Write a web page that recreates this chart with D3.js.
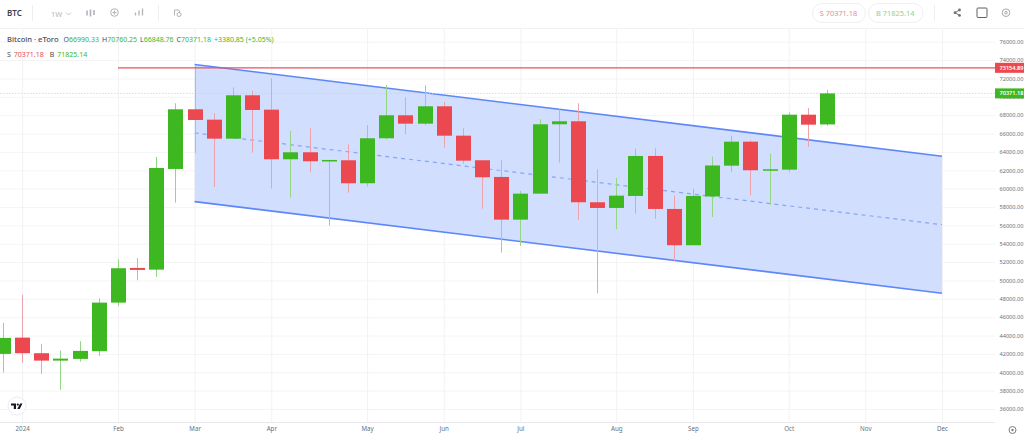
<!DOCTYPE html>
<html lang="en">

<head>
  <meta charset="UTF-8" />
  <title>BTC weekly</title>
  <script src="https://d3js.org/d3.v7.min.js"></script>
  <style>
    html, body { margin: 0; padding: 0; background: #fff; overflow: hidden; }
    svg { display: block; font-family: "Noto Sans", sans-serif; }
  </style>
</head>

<body>
  <script>
    //weekly candles
    const opens = [42000, 43774, 42076, 41270, 41456, 42294, 47585, 51363, 51178, 62141, 68640, 67508, 65440, 70165, 68597, 63197, 63959, 62979, 63088, 60584, 65483, 67987, 67073, 68967, 65766, 63088, 61270, 56621, 59452, 67007, 67334, 58516, 57895, 59202, 63556, 57786, 53834, 59147, 62500, 65113, 61956, 62065, 68052, 66990.33]
    const highs = [45375, 48423, 43089, 42359, 43383, 48064, 52310, 52451, 63447, 69294, 73463, 68205, 71036, 70665, 72015, 66278, 66572, 63121, 64830, 66931, 71253, 69947, 71253, 69435, 66572, 63121, 63153, 59746, 67552, 68640, 69294, 62108, 61161, 64351, 64394, 59234, 59996, 63480, 65766, 65265, 63807, 68314, 68782, 70760.25]
    const lows = [39964, 41020, 39822, 38080, 41162, 41782, 47226, 50024, 50383, 58472, 63850, 60181, 65440, 63915, 59996, 59016, 61782, 55968, 59561, 60214, 65374, 65919, 66898, 64460, 62718, 57819, 53028, 53758, 59452, 62827, 56621, 48608, 55609, 57274, 56698, 52157, 53834, 56915, 61782, 59277, 58254, 61782, 64536, 66848.76]
    const closes = [43742, 42076, 41270, 41488, 42327, 47585, 51330, 51145, 62250, 68640, 67475, 65440, 70165, 68564, 63197, 63959, 62979, 63121, 60584, 65483, 67987, 67073, 68967, 65766, 63044, 61237, 56621, 59452, 67007, 67334, 58516, 57895, 59234, 63556, 57786, 53834, 59202, 62522, 65113, 61999, 62108, 68052, 66964, 70371.18]

    const monthNames = ['2024', 'Feb', 'Mar', 'Apr', 'May', 'Jun', 'Jul', 'Aug', 'Sep', 'Oct', 'Nov', 'Dec']
    const monthWeeks = [1, 6, 10, 14, 19, 23, 27, 32, 36, 41, 45, 49]
    const priceTicks = d3.range(36000, 76001, 2000)

    //drawn channel: week index, upper, middle, lower
    const channelWeeks = [10, 49]
    const channelUpper = [73518, 63524]
    const channelMiddle = [66060, 56077]
    const channelLower = [58581, 48608]

    const lastPrice = 70371.18
    const alertPrice = 73154.89
    const alertStart = 6

    const width = 1024, height = 437
    const green = '#3db821', red = '#ec4850'

    const x = d3.scaleLinear().domain([0, 49]).range([3, 942])
    const y = d3.scaleLinear().domain([36000, 76000]).range([409, 41.7])

    const svg = d3.select('body').append('svg')
      .attr('width', width)
      .attr('height', height)

    //grid, using the axes with long ticks
    const yAxis = d3.axisRight(y)
      .tickValues(priceTicks)
      .tickFormat(d3.format('.2f'))
      .tickSize(995)
    const yGroup = svg.append('g').attr('id', 'yaxis').call(yAxis)
    yGroup.select('.domain').remove()
    yGroup.selectAll('line').attr('stroke', '#f4f4f6')
    yGroup.selectAll('text')
      .attr('x', 999.5)
      .attr('fill', '#6b6f78')
      .style('font-size', '5.6px')
      .style('font-family', '"Noto Sans", sans-serif')

    const xAxis = d3.axisBottom(x)
      .tickValues(monthWeeks)
      .tickFormat((d, i) => monthNames[i])
      .tickSize(394)
    const xGroup = svg.append('g').attr('id', 'xaxis').attr('transform', 'translate(0,28)').call(xAxis)
    xGroup.select('.domain').remove()
    xGroup.selectAll('line').attr('stroke', '#f2f2f5')
    xGroup.selectAll('text')
      .attr('y', 399)
      .attr('fill', '#6b6f78')
      .style('font-size', '6.2px')
      .style('font-family', '"Noto Sans", sans-serif')

    //frame lines
    svg.append('line').attr('x1', 0).attr('x2', width).attr('y1', 28.5).attr('y2', 28.5).attr('stroke', '#f2f2f4')
    svg.append('line').attr('x1', 0).attr('x2', 995).attr('y1', 422.5).attr('y2', 422.5).attr('stroke', '#e8e8ec')

    //channel
    const channel = channelWeeks.map((w, i) => ({ w, up: channelUpper[i], mid: channelMiddle[i], low: channelLower[i] }))
    svg.append('path')
      .datum(channel)
      .attr('fill', '#d1defd')
      .attr('d', d3.area().x(d => x(d.w)).y0(d => y(d.low)).y1(d => y(d.up)))
    svg.append('path')
      .datum(channel)
      .attr('fill', 'none').attr('stroke', '#86a5fa').attr('stroke-width', 1.2).attr('stroke-dasharray', '4 4')
      .attr('d', d3.line().x(d => x(d.w)).y(d => y(d.mid)))
    for (const key of ['up', 'low']) {
      svg.append('path')
        .datum(channel)
        .attr('fill', 'none').attr('stroke', '#5c86fb').attr('stroke-width', 1.6)
        .attr('d', d3.line().x(d => x(d.w)).y(d => y(d[key])))
    }

    //last price dotted line
    svg.append('line')
      .attr('x1', 0).attr('x2', 995)
      .attr('y1', y(lastPrice)).attr('y2', y(lastPrice))
      .attr('stroke', '#b9e3ae').attr('stroke-width', 0.8).attr('stroke-dasharray', '1.5 1.5')

    //candles
    const candles = opens.map((o, i) => ({ i, o, h: highs[i], l: lows[i], c: closes[i] }))
    const candle = svg.append('g').attr('id', 'candles').selectAll('g')
      .data(candles)
      .join('g')
    candle.append('line')
      .attr('x1', d => Math.round(x(d.i)) + 0.5)
      .attr('x2', d => Math.round(x(d.i)) + 0.5)
      .attr('y1', d => y(d.h))
      .attr('y2', d => y(d.l))
      .attr('stroke', d => d.c >= d.o ? '#93d685' : '#eca3ad')
      .attr('stroke-width', 1)
    candle.append('rect')
      .attr('x', d => Math.round(x(d.i)) + 0.5 - 7.5)
      .attr('width', 15)
      .attr('y', d => y(Math.max(d.o, d.c)))
      .attr('height', d => Math.max(1.5, y(Math.min(d.o, d.c)) - y(Math.max(d.o, d.c))))
      .attr('fill', d => d.c >= d.o ? green : red)

    //alert line and its price tag
    svg.append('line')
      .attr('x1', x(alertStart)).attr('x2', 995)
      .attr('y1', y(alertPrice)).attr('y2', y(alertPrice))
      .attr('stroke', '#e9525c').attr('stroke-width', 1.2)

    function priceTag(value, fill) {
      svg.append('rect').attr('x', 995).attr('width', 29).attr('y', y(value) - 5).attr('height', 10).attr('fill', fill)
      svg.append('text').attr('x', 999.5).attr('y', y(value) + 2)
        .attr('fill', '#fff').style('font-size', '5.6px').style('font-weight', 600)
        .text(value.toFixed(2))
    }
    priceTag(alertPrice, '#ec4850')
    priceTag(lastPrice, green)

    //legend text
    const legend = svg.append('text').attr('x', 7).attr('y', 41.5).style('font-size', '7px').attr('fill', green)
    legend.append('tspan').attr('fill', '#4a4e57').style('font-size', '7.6px').style('font-weight', 500).text('Bitcoin · eToro')
    const ohlc = [['O', '66990.33'], ['H', '70760.25'], ['L', '66848.76'], ['C', '70371.18']]
    ohlc.forEach((p, i) => {
      legend.append('tspan').attr('fill', '#4a4e57').attr('dx', i ? 3 : 5).text(p[0])
      legend.append('tspan').text(p[1])
    })
    legend.append('tspan').attr('dx', 3).text('+3380.85 (+5.05%)')

    const quote = svg.append('text').attr('x', 7).attr('y', 57).style('font-size', '7px')
    quote.append('tspan').attr('fill', '#4a4e57').text('S')
    quote.append('tspan').attr('fill', red).attr('dx', 3).text('70371.18')
    quote.append('tspan').attr('fill', '#4a4e57').attr('dx', 6).text('B')
    quote.append('tspan').attr('fill', green).attr('dx', 3).text('71825.14')

    //toolbar
    svg.append('text').attr('x', 7).attr('y', 16).attr('fill', '#3c4049').style('font-size', '8px').style('font-weight', 600).text('BTC')
    svg.append('text').attr('x', 51).attr('y', 17).attr('fill', '#b4b7bd').style('font-size', '7.5px').text('1W')
    svg.append('path').attr('d', 'M66 12.5l2.5 2.5 2.5-2.5').attr('fill', 'none').attr('stroke', '#b4b7bd').attr('stroke-width', 0.8)
    for (const sx of [32.5, 158.5, 934.5]) {
      svg.append('line').attr('x1', sx).attr('x2', sx).attr('y1', 5).attr('y2', 21).attr('stroke', '#eeeef1')
    }
    const icon = svg.append('g').attr('fill', 'none').attr('stroke', '#b0b3b9').attr('stroke-width', 1)
    //candle icon
    icon.append('path').attr('d', 'M87 10.5v5M90.5 9.5v7M94 10v5').attr('stroke-width', 1.6)
    //indicator icon
    icon.append('circle').attr('cx', 114.5).attr('cy', 12.5).attr('r', 3.8)
    icon.append('path').attr('d', 'M112.5 12.5h4M114.5 10.5v4')
    //bars icon
    icon.append('path').attr('d', 'M135.5 15.5v-3M139 15.5v-5M142.5 15.5v-7').attr('stroke-width', 1.3)
    //layout icon
    icon.append('path').attr('d', 'M174.5 15.5v-5.5h4l1 1v2')
    icon.append('circle').attr('cx', 179).attr('cy', 14.5).attr('r', 2)

    //buy and sell pills
    const pills = [['S 70371.18', 812, 53, '#e58b9c'], ['B 71825.14', 868, 54.5, '#8fd08a']]
    for (const p of pills) {
      svg.append('rect').attr('x', p[1] + 0.5).attr('y', 3.5).attr('width', p[2]).attr('height', 19).attr('rx', 9.5)
        .attr('fill', '#fff').attr('stroke', '#efeff2')
      svg.append('text').attr('x', p[1] + p[2] / 2).attr('y', 16).attr('text-anchor', 'middle')
        .attr('fill', p[3]).style('font-size', '7.4px').text(p[0])
    }

    //share, square, settings
    const right = svg.append('g').attr('fill', 'none')
    right.append('path').attr('d', 'M959.5 10l-4.5 2.7 4.5 2.7').attr('stroke', '#6f737b')
    right.selectAll('circle.share').data([[959.5, 10], [955, 12.7], [959.5, 15.4]]).join('circle')
      .attr('cx', d => d[0]).attr('cy', d => d[1]).attr('r', 1.4).attr('fill', '#6f737b')
    right.append('rect').attr('x', 977).attr('y', 8).attr('width', 10).attr('height', 9.5).attr('rx', 1).attr('stroke', '#5d6169')
    right.append('circle').attr('cx', 1006).attr('cy', 12.7).attr('r', 3.8).attr('stroke', '#a5a8af')
    right.append('circle').attr('cx', 1006).attr('cy', 12.7).attr('r', 1.3).attr('stroke', '#a5a8af')
    right.append('circle').attr('cx', 1012.5).attr('cy', 430).attr('r', 3.5).attr('stroke', '#7c8088')
    right.append('circle').attr('cx', 1012.5).attr('cy', 430).attr('r', 1.2).attr('fill', '#7c8088')

    //logo
    svg.append('circle').attr('cx', 17).attr('cy', 406).attr('r', 9).attr('fill', '#fff').attr('stroke', '#ececef')
    svg.append('path').attr('fill', '#131722').attr('d', 'M11 403.5h5v5.5h-2.2v-3.4h-2.8zM22.5 403.5l-2.8 5.5h-2.4l2.8-5.5z')
    svg.append('circle').attr('cx', 17.8).attr('cy', 404.6).attr('r', 1.1).attr('fill', '#131722')
  </script>
</body>

</html>
